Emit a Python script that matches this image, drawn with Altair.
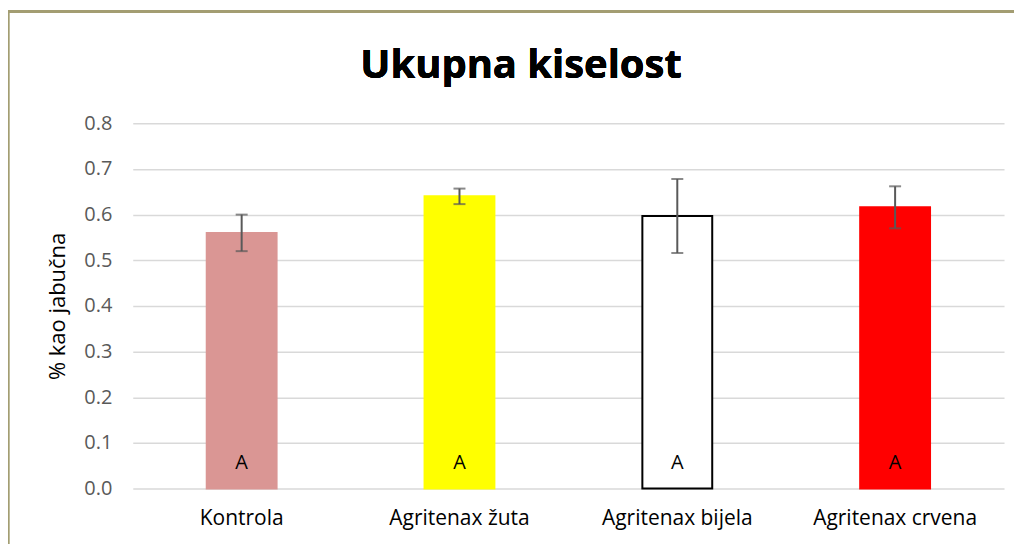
import altair as alt
import pandas as pd

categories = ["Kontrola", "Agritenax žuta", "Agritenax bijela", "Agritenax crvena"]
means = [0.56, 0.64, 0.597, 0.616]
errors = [0.040, 0.017, 0.081, 0.046]
letters = ["A", "A", "A", "A"]
fills = ["#da9694", "#ffff00", "#ffffff", "#ff0000"]
strokes = ["#da9694", "#ffff00", "#000000", "#ff0000"]
y_ticks = [0.0, 0.1, 0.2, 0.3, 0.4, 0.5, 0.6, 0.7, 0.8]
title_text = "Ukupna kiselost"

df = pd.DataFrame({
    "cat": categories,
    "mean": means,
    "lo": [m - e for m, e in zip(means, errors)],
    "hi": [m + e for m, e in zip(means, errors)],
    "letter": letters,
    "label_y": [0.055] * 4,
})

FONT = "Open Sans"
x = alt.X("cat:N", sort=categories, title=None,
          scale=alt.Scale(paddingInner=0, paddingOuter=0),
          axis=alt.Axis(labelAngle=0, ticks=False, domain=False, labelPadding=19,
                        labelFontSize=21, labelColor="#000000", labelFont=FONT, grid=False))
yscale = alt.Scale(domain=[0, 0.8], nice=False)

base = alt.Chart(df)

bars = base.mark_bar(size=70, strokeWidth=2).encode(
    x=x,
    y=alt.Y("mean:Q", scale=yscale, title="% kao jabučna",
            axis=alt.Axis(values=y_ticks, format=".1f", ticks=False, domain=False,
                          labelPadding=21, labelFontSize=20, labelColor="#595959",
                          labelFont=FONT, titleFont=FONT, titleFontSize=22,
                          titleFontWeight="normal", titleColor="#000000", titlePadding=14,
                          gridColor="#d9d9d9", gridWidth=1.5)),
    fill=alt.Fill("cat:N", scale=alt.Scale(domain=categories, range=fills), legend=None),
    stroke=alt.Stroke("cat:N", scale=alt.Scale(domain=categories, range=strokes), legend=None),
)

rules = base.mark_rule(color="#595959", strokeWidth=2).encode(
    x=alt.X("cat:N", sort=categories), y=alt.Y("lo:Q", scale=yscale), y2="hi:Q")
cap_lo = base.mark_tick(color="#595959", thickness=2, size=12, orient="horizontal").encode(
    x=alt.X("cat:N", sort=categories), y=alt.Y("lo:Q", scale=yscale))
cap_hi = base.mark_tick(color="#595959", thickness=2, size=12, orient="horizontal").encode(
    x=alt.X("cat:N", sort=categories), y=alt.Y("hi:Q", scale=yscale))

text = base.mark_text(font=FONT, fontSize=20, color="#000000").encode(
    x=alt.X("cat:N", sort=categories), y=alt.Y("label_y:Q", scale=yscale), text="letter:N")

title = base.mark_text(font=FONT, fontSize=40, fontWeight="bold", color="#000000",
                       baseline="alphabetic", align="center").encode(
    x=alt.value(389), y=alt.value(-45), text=alt.value(title_text))

frame_top = base.mark_rule(color="#a39d72", strokeWidth=2.5).encode(
    x=alt.value(-125), x2=alt.value(900), y=alt.value(-112))
frame_left = base.mark_rule(color="#a39d72", strokeWidth=2.5).encode(
    x=alt.value(-125), y=alt.value(-112), y2=alt.value(470))

chart = alt.layer(bars, rules, cap_lo, cap_hi, text, title, frame_top, frame_left).properties(
    width=873, height=366,
    autosize=alt.AutoSizeParams(type="none"),
    padding={"left": 125, "top": 115, "right": 10, "bottom": 55},
).configure_view(stroke=None)

chart.save("out.html", embed_options={"renderer": "svg", "actions": False})
